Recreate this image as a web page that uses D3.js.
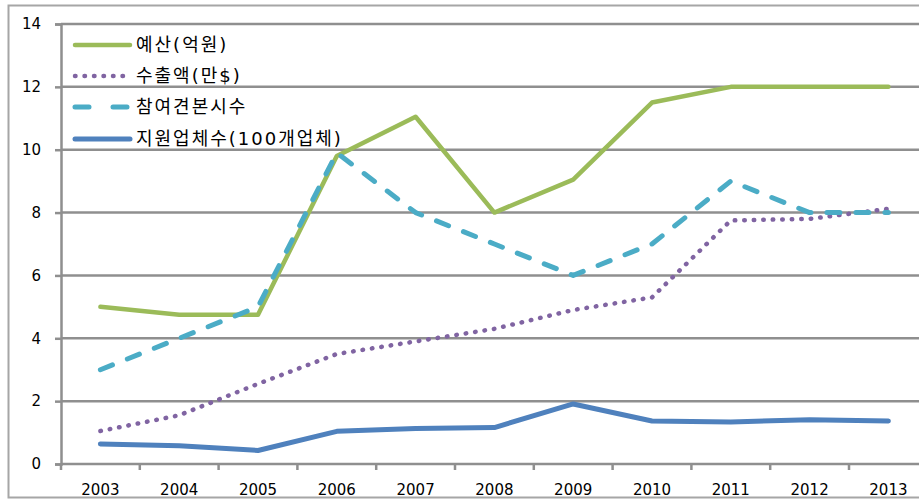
<!DOCTYPE html>
<html>
<head>
<meta charset="utf-8">
<script src="https://cdn.jsdelivr.net/npm/d3@7/dist/d3.min.js"></script>
<style>
  html, body { margin: 0; padding: 0; background: #fff; }
  svg { display: block; }
  text { font-family: "DejaVu Sans", "Noto Sans CJK KR", sans-serif; fill: #000; }
</style>
</head>
<body>
<svg id="chart" width="919" height="499"></svg>
<script>
// Years on the category axis
const years = ["2003","2004","2005","2006","2007","2008","2009","2010","2011","2012","2013"];

// Series values
const budget   = [5.0, 4.75, 4.75, 9.8, 11.05, 8.0, 9.05, 11.5, 12.0, 12.0, 12.0];   // 예산(억원)
const exports_ = [1.05, 1.55, 2.55, 3.5, 3.9, 4.3, 4.9, 5.3, 7.75, 7.8, 8.12];         // 수출액(만$)
const fairs    = [3.0, 4.0, 5.0, 9.9, 8.0, 7.0, 6.0, 7.0, 9.0, 8.0, 8.0];             // 참여견본시수
const firms    = [0.64, 0.58, 0.43, 1.04, 1.13, 1.16, 1.91, 1.37, 1.34, 1.41, 1.37];   // 지원업체수(100개업체)

// Value-axis ticks
const yTicks = [0, 2, 4, 6, 8, 10, 12, 14];

const seriesNames = ["예산(억원)", "수출액(만$)", "참여견본시수", "지원업체수(100개업체)"];

const series = [
  { name: seriesNames[0], values: budget,   color: "#9bbb59", width: 4.5, dash: null,    legendDash: null },
  { name: seriesNames[1], values: exports_, color: "#8064a2", width: 4.5, dash: "0.5 9", legendDash: "0.5 9" },
  { name: seriesNames[2], values: fairs,    color: "#4bacc6", width: 5,   dash: "13 16", legendDash: "14 24" },
  { name: seriesNames[3], values: firms,    color: "#4f81bd", width: 5,   dash: null,    legendDash: null }
];

const svg = d3.select("#chart");
const gridColor = "#8f8f8f";

// Outer chart frame (right edge runs past the canvas)
svg.append("path")
  .attr("d", "M940,5.5 H8.5 V497.5 H940")
  .attr("fill", "none")
  .attr("stroke", "#a6a6a6")
  .attr("stroke-width", 2);

const plotLeft = 61, plotTop = 24, plotBottom = 464;
const bandW = 78.8;

const x = d3.scaleBand()
  .domain(years)
  .range([plotLeft, plotLeft + bandW * years.length])
  .paddingInner(0).paddingOuter(0);

const y = d3.scaleLinear().domain([0, 14]).range([plotBottom, plotTop]);

// Horizontal gridlines
svg.append("g")
  .selectAll("line")
  .data(yTicks.filter(t => t > 0))
  .join("line")
  .attr("x1", plotLeft).attr("x2", 940)
  .attr("y1", d => y(d)).attr("y2", d => y(d))
  .attr("stroke", gridColor)
  .attr("stroke-width", 2.5);

// Value axis
const yAxis = svg.append("g")
  .attr("transform", `translate(${plotLeft},0)`)
  .call(d3.axisLeft(y).tickValues(yTicks).tickSize(6).tickPadding(14).tickFormat(d3.format("d")));
yAxis.select(".domain").attr("stroke", gridColor).attr("stroke-width", 2.5);
yAxis.selectAll(".tick line").attr("stroke", gridColor).attr("stroke-width", 2.5);
yAxis.selectAll(".tick text")
  .style("font-size", "15px")
  .style("font-family", "'DejaVu Sans', sans-serif")
  .attr("fill", "#000");

// Category axis
const xAxis = svg.append("g")
  .attr("transform", `translate(0,${plotBottom})`)
  .call(d3.axisBottom(x).tickSize(0).tickPadding(20));
xAxis.select(".domain").remove();
xAxis.append("line")
  .attr("x1", plotLeft).attr("x2", 940)
  .attr("stroke", gridColor).attr("stroke-width", 2.5);
xAxis.selectAll(".tick text")
  .style("font-size", "15px")
  .style("font-family", "'DejaVu Sans', sans-serif")
  .attr("fill", "#000");
// Tick marks at category boundaries
xAxis.append("g")
  .selectAll("line")
  .data(years.map(yr => x(yr)).concat([x(years[years.length - 1]) + x.bandwidth()]))
  .join("line")
  .attr("x1", d => d).attr("x2", d => d)
  .attr("y1", 0).attr("y2", 6)
  .attr("stroke", gridColor).attr("stroke-width", 2.5);

// Series lines
const line = d3.line()
  .x((d, i) => x(years[i]) + x.bandwidth() / 2)
  .y(d => y(d));

svg.append("g")
  .selectAll("path")
  .data(series)
  .join("path")
  .attr("d", s => line(s.values))
  .attr("fill", "none")
  .attr("stroke", s => s.color)
  .attr("stroke-width", s => s.width)
  .attr("stroke-dasharray", s => s.dash)
  .attr("stroke-linecap", "round")
  .attr("stroke-linejoin", "round");

// Legend
const legend = svg.append("g");
const rowY = [45, 76, 107, 139];
series.forEach((s, i) => {
  const g = legend.append("g").attr("transform", `translate(0,${rowY[i]})`);
  g.append("line")
    .attr("x1", 75).attr("x2", 130)
    .attr("y1", 0).attr("y2", 0)
    .attr("stroke", s.color)
    .attr("stroke-width", s.width)
    .attr("stroke-dasharray", s.legendDash)
    .attr("stroke-linecap", "round");
  g.append("text")
    .attr("x", 136).attr("y", 0).attr("dy", "0.36em")
    .style("font-size", "18px")
    .style("letter-spacing", "2px")
    .text(s.name);
});
</script>
</body>
</html>
